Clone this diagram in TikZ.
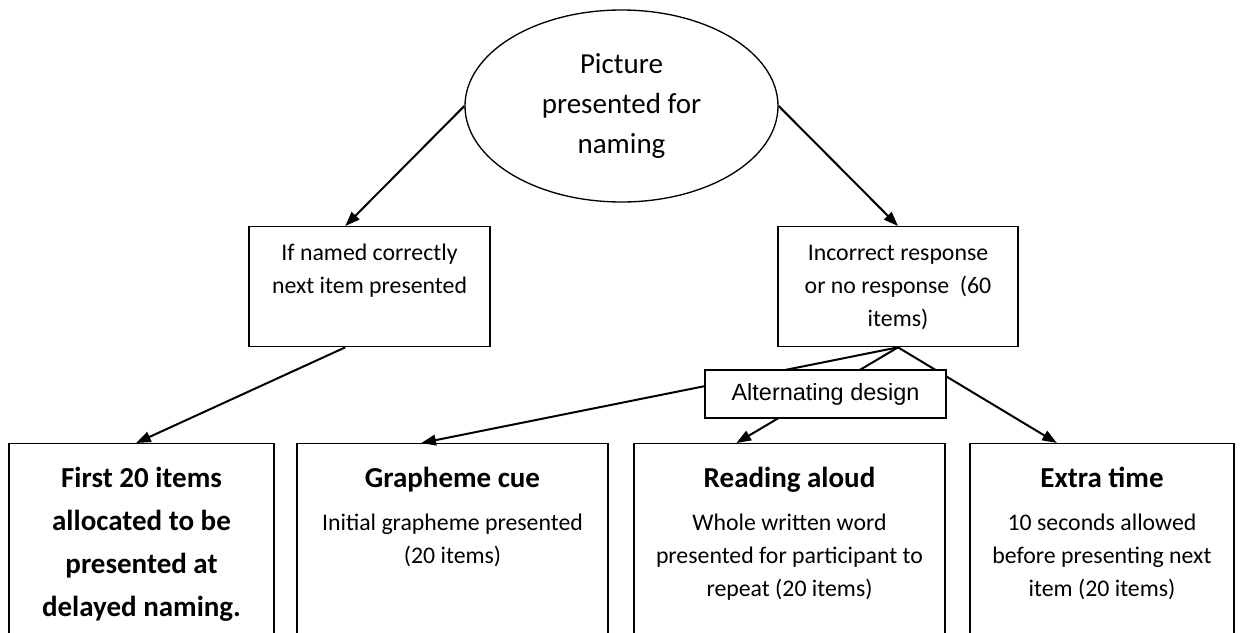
\documentclass[tikz,border=0pt]{standalone}
\usepackage{fontspec}
\setmainfont{Carlito}
\newfontfamily\arialfont{Liberation Sans}
\usetikzlibrary{shapes.geometric,arrows.meta,calc}

% type sizes used in the chart
\newcommand\bigfont{\fontsize{21.75}{32.25}\selectfont}
\newcommand\ovalfont{\fontsize{21.75}{30}\selectfont}
\newcommand\smallfont{\fontsize{17.85}{24.75}\selectfont}
% fixed-size box body, text hung from the top: width, height, first baseline, text
\newcommand\boxbody[4]{\parbox[c][#2][t]{#1}{\centering\rule{0pt}{#3}#4}}

\tikzset{
  box/.style={draw, line width=1pt, fill=white, inner sep=0pt, anchor=north},
  oval/.style={ellipse, draw, line width=1pt, inner sep=0pt, align=center, font=\ovalfont},
  conn/.style={line width=1.5pt, -{Triangle[length=11pt,width=8pt]}},
}

\begin{document}
\begin{tikzpicture}[x=0.75pt, y=-0.75pt]
\useasboundingbox (0,0) rectangle (1241,632);
\fill[white] (0,0) rectangle (1241,632);
\clip (0,0) rectangle (1241,632);

% start
\node[oval, minimum width=234.75pt, minimum height=144pt] (ell) at (621.5,106)
  {Picture\\presented for\\naming};

% outcome of the naming attempt
\node[box] (lb) at (369.5,226)
  {\boxbody{180.75pt}{90pt}{25.5pt}{\smallfont If named correctly\\next item presented\par}};
\node[box] (rb) at (898,226)
  {\boxbody{180pt}{90pt}{25.5pt}{\smallfont Incorrect response\\or no response\ \ (60\\items)\par}};

% conditions
\node[box] (b1) at (141.5,443)
  {\boxbody{198.75pt}{151.5pt}{33pt}{\bigfont\bfseries First 20 items\\allocated to be\\presented at\\delayed naming.\par}};
\node[box] (b2) at (452.5,443)
  {\boxbody{233.25pt}{151.5pt}{33pt}{\bigfont\bfseries Grapheme cue\par\vspace{7.5pt}\mdseries\smallfont Initial grapheme presented\\(20 items)\par}};
\node[box] (b3) at (789.5,443)
  {\boxbody{233.25pt}{151.5pt}{33pt}{\bigfont\bfseries Reading aloud\par\vspace{7.5pt}\mdseries\smallfont Whole written word\\presented for participant to\\repeat (20 items)\par}};
\node[box] (b4) at (1102,443)
  {\boxbody{198pt}{151.5pt}{33pt}{\bigfont\bfseries Extra time\par\vspace{7.5pt}\mdseries\smallfont 10 seconds allowed\\before presenting next\\item (20 items)\par}};

% connectors
\draw[conn] (ell.west) -- ($(lb.north west)!0.4!(lb.north east)$);
\draw[conn] (ell.east) -- (rb.north);
\draw[conn] ($(lb.south west)!0.4!(lb.south east)$) -- ($(b1.north west)!0.48!(b1.north east)$);
\draw[conn] (rb.south) -- ($(b2.north west)!0.4!(b2.north east)$);
\draw[conn] (rb.south) -- ($(b3.north west)!0.33!(b3.north east)$);
\draw[conn] (rb.south) -- ($(b4.north west)!0.33!(b4.north east)$);

% label box laid over the split
\node[draw, line width=1pt, fill=white, inner sep=0pt, minimum width=180.75pt, minimum height=36pt,
      font=\arialfont\fontsize{17.6}{21}\selectfont] (alt) at (825.5,394) {Alternating design};
\end{tikzpicture}
\end{document}
